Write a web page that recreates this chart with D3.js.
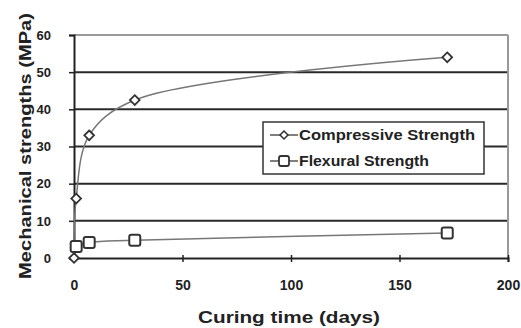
<!DOCTYPE html>
<html><head><meta charset="utf-8">
<script src="https://cdn.jsdelivr.net/npm/d3@7"></script>
<style>body{margin:0;background:#fff}svg{display:block}text{font-family:Arial,"Liberation Sans",sans-serif;font-weight:bold;fill:#222}</style>
</head><body><svg id="c" width="521" height="328"></svg>
<script>
const compDays = [0, 1, 7, 28, 172];
const compValues = [0, 16, 33, 42.5, 54];
const flexDays = [1, 7, 28, 172];
const flexValues = [3.1, 4.2, 4.8, 6.7];
const xTicks = [0, 50, 100, 150, 200];
const yTicks = [0, 10, 20, 30, 40, 50, 60];
const seriesNames = ["Compressive Strength", "Flexural Strength"];

const svg = d3.select("#c");
const m = {l:74, r:13, t:35, b:70};
const W = 521, H = 328;
const x = d3.scaleLinear().domain([0,200]).range([m.l, W-m.r]);
const y = d3.scaleLinear().domain([0,60]).range([H-m.b, m.t]);

// grid
svg.append("g").selectAll("line").data(yTicks.filter(d=>d>0 && d<60)).join("line")
  .attr("x1", x(0)).attr("x2", x(200)).attr("y1", d=>y(d)).attr("y2", d=>y(d))
  .attr("stroke", "#2a2a2a").attr("stroke-width", 2);
// top and right border
svg.append("line").attr("x1", x(0)).attr("x2", x(200)).attr("y1", y(60)).attr("y2", y(60)).attr("stroke", "#999").attr("stroke-width", 2);
svg.append("line").attr("x1", x(200)).attr("x2", x(200)).attr("y1", y(60)).attr("y2", y(0)).attr("stroke", "#999").attr("stroke-width", 2);

// axes
const xa = svg.append("g").attr("transform", `translate(0,${y(0)})`)
  .call(d3.axisBottom(x).tickValues(xTicks).tickSize(4).tickPadding(28));
const ya = svg.append("g").attr("transform", `translate(${x(0)},0)`)
  .call(d3.axisLeft(y).tickValues(yTicks).tickSize(5).tickPadding(18));
[xa, ya].forEach(a => {
  a.select(".domain").attr("stroke", "#222").attr("stroke-width", 2);
  a.selectAll(".tick line").attr("stroke", "#222").attr("stroke-width", 1.5);
  a.selectAll("text").attr("font-family", "Arial, 'Liberation Sans', sans-serif").attr("font-weight", "bold").attr("fill", "#222");
});
xa.selectAll("text").attr("font-size", 14).attr("dy", "0");
ya.selectAll("text").attr("font-size", 13);
xa.selectAll(".tick line").attr("y1", -3);

// lines
const line = d3.line().x(d=>x(d[0])).y(d=>y(d[1])).curve(d3.curveCatmullRom.alpha(0.5));
const comp = compDays.map((d,i)=>[d, compValues[i]]);
const flex = flexDays.map((d,i)=>[d, flexValues[i]]);
svg.append("path").datum(comp).attr("d", line).attr("fill","none").attr("stroke","#777").attr("stroke-width",1.5);
svg.append("path").datum(flex).attr("d", line).attr("fill","none").attr("stroke","#777").attr("stroke-width",1.5);

const diamond = d3.symbol().type(d3.symbolDiamond2).size(60);
svg.append("g").selectAll("path").data(comp).join("path")
  .attr("transform", d=>`translate(${x(d[0])},${y(d[1])})`).attr("d", diamond)
  .attr("fill","#fff").attr("stroke","#333").attr("stroke-width",1.8);
svg.append("g").selectAll("rect").data(flex).join("rect")
  .attr("x", d=>x(d[0])-5.5).attr("y", d=>y(d[1])-5.5).attr("width",11).attr("height",11).attr("rx",2)
  .attr("fill","#fff").attr("stroke","#333").attr("stroke-width",2);

// legend
const lg = svg.append("g");
lg.append("rect").attr("x",263).attr("y",122).attr("width",221).attr("height",52)
  .attr("fill","#fff").attr("stroke","#333").attr("stroke-width",1.5);
const legLens = [176, 130];
seriesNames.forEach((n,i)=>{
  const yy = 135 + i*26;
  lg.append("line").attr("x1",270).attr("x2",298).attr("y1",yy).attr("y2",yy).attr("stroke","#555").attr("stroke-width",1.5);
  if(i===0) lg.append("path").attr("transform",`translate(284,${yy})`).attr("d", d3.symbol().type(d3.symbolDiamond2).size(40)).attr("fill","#fff").attr("stroke","#333").attr("stroke-width",1.5);
  else lg.append("rect").attr("x",279).attr("y",yy-5).attr("width",10).attr("height",10).attr("rx",2).attr("fill","#fff").attr("stroke","#333").attr("stroke-width",1.8);
  lg.append("text").attr("x",299).attr("y",yy+5).attr("font-size",14)
    .attr("textLength", legLens[i]).attr("lengthAdjust","spacingAndGlyphs").text(n);
});

// titles
svg.append("text").attr("x", 289).attr("y", 323).attr("text-anchor","middle").attr("font-size",16)
  .attr("textLength",182).attr("lengthAdjust","spacingAndGlyphs").text("Curing time (days)");
svg.append("text").attr("transform","translate(31,146) rotate(-90)").attr("text-anchor","middle").attr("font-size",16)
  .attr("textLength",266).attr("lengthAdjust","spacingAndGlyphs").text("Mechanical strengths (MPa)");
</script></body></html>
